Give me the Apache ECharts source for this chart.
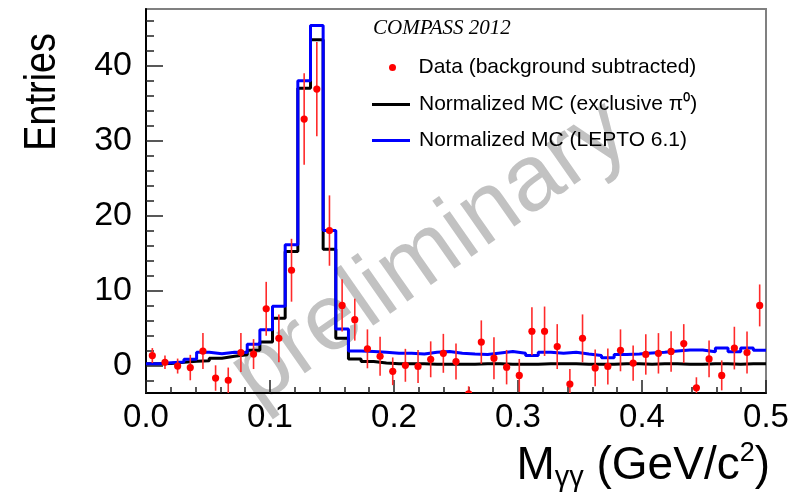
<!DOCTYPE html>
<html>
<head>
<meta charset="utf-8">
<script src="https://cdn.jsdelivr.net/npm/echarts@6/dist/echarts.min.js"></script>
<style>
  html, body { margin: 0; padding: 0; background: #ffffff; }
  #chart { width: 810px; height: 498px; }
</style>
</head>
<body>
<div id="chart"></div>
<script>
// Diphoton invariant mass spectrum, 49 equal bins between 0 and 0.5 GeV/c^2
const massMin = 0;
const massMax = 0.5;
const nBins = 49;

// Background-subtracted data: entries per bin and their statistical errors
const dataCounts = [
  1.3, 0.4, -0.1, -0.3, 1.9, -1.7, -2.0, 1.7, 1.5, 7.55,
  3.6, 12.7, 32.9, 36.9, 18.0, 8.0, 6.1, 2.2, 1.2, -0.8,
  0.0, -0.15, 0.8, 1.6, 0.5, -3.8, 3.1, 0.95, -0.25, -1.35,
  4.55, 4.55, 2.5, -2.5, 3.6, -0.35, -0.15, 2.0, 0.3, 1.45,
  1.6, 1.85, 2.9, -3.0, 0.85, -1.35, 2.3, 1.7, 8.0
];
const dataErrors = [
  1.0, 0.9, 1.0, 1.7, 2.4, 1.7, 1.7, 2.6, 2.0, 3.6,
  3.2, 4.2, 6.1, 6.3, 4.7, 3.5, 2.8, 2.6, 2.6, 1.85,
  2.2, 2.2, 2.4, 2.6, 2.4, 1.0, 2.9, 2.8, 2.3, 2.2,
  3.2, 3.3, 3.0, 2.0, 3.2, 2.45, 2.4, 2.8, 2.35, 2.7,
  2.7, 2.7, 2.6, 1.4, 2.45, 2.0, 2.85, 2.8, 2.8
];

// Normalized Monte Carlo: exclusive pi0 production
const mcExclusive = [
  0.2, 0.25, 0.4, 0.55, 0.6, 0.95, 1.2, 1.4, 2.0, 3.1,
  6.3, 15.2, 37.0, 43.5, 15.5, 3.6, 0.85, 0.5, 0.3, 0.2,
  0.2, 0.2, 0.15, 0.15, 0.15, 0.15, 0.2, 0.2, 0.15, 0.15,
  0.15, 0.2, 0.2, 0.2, 0.15, 0.15, 0.15, 0.2, 0.2, 0.15,
  0.2, 0.2, 0.15, 0.15, 0.2, 0.2, 0.15, 0.2, 0.2
];

// Normalized Monte Carlo: LEPTO 6.1
const mcLepto = [
  0.2, 0.35, 0.45, 0.8, 1.75, 1.55, 1.75, 1.7, 2.8, 4.75,
  7.9, 16.1, 38.0, 45.4, 18.0, 4.85, 1.9, 1.85, 1.75, 1.6,
  1.6, 1.5, 1.75, 1.85, 1.6, 1.5, 1.45, 1.65, 1.85, 1.6,
  1.3, 1.75, 1.6, 1.75, 1.5, 1.3, 1.0, 1.45, 1.5, 1.65,
  1.75, 1.9, 2.05, 2.05, 1.8, 2.3, 1.8, 2.3, 2.0
];

const yMajorTicks = [0, 10, 20, 30, 40];
const yMinorTicks = [-2, 0, 2, 4, 6, 8, 10, 12, 14, 16, 18, 20, 22, 24, 26, 28, 30, 32, 34, 36, 38, 40, 42, 44, 46];
const yRange = [-3.7, 47.6];

const binWidth = (massMax - massMin) / nBins;

// Step outline of a histogram: two points per bin (left and right edge)
function stepLine(values) {
  const pts = [];
  values.forEach((v, i) => {
    pts.push([massMin + i * binWidth, v]);
    pts.push([massMin + (i + 1) * binWidth, v]);
  });
  return pts;
}

const pointData = dataCounts.map((v, i) => [massMin + (i + 0.5) * binWidth, v, dataErrors[i]]);

const labelFont = 'Liberation Sans, Arial, Helvetica, sans-serif';

const chart = echarts.init(document.getElementById('chart'), null, { renderer: 'canvas' });

const yAxisCommon = {
  type: 'value',
  min: yRange[0],
  max: yRange[1],
  position: 'left',
  offset: 0,
  splitLine: { show: false }
};

chart.setOption({
  animation: false,
  backgroundColor: '#ffffff',
  grid: {
    left: 146, right: 44, top: 9, bottom: 105,
    containLabel: false,
    outerBoundsMode: 'none',
    show: true,
    borderColor: '#808080',
    borderWidth: 2,
    backgroundColor: 'transparent'
  },
  legend: [
    {
      orient: 'vertical',
      left: 389,
      top: 57,
      padding: 0,
      itemWidth: 38,
      itemHeight: 7,
      selectedMode: false,
      textStyle: { fontFamily: labelFont, fontSize: 21, color: '#000', padding: [0, 0, 0, 2] },
      data: [
        { name: 'Data (background subtracted)', icon: 'circle', itemStyle: { color: '#ff0000' } }
      ]
    },
    {
      orient: 'vertical',
      left: 372,
      top: 94,
      padding: 0,
      itemWidth: 38,
      itemHeight: 3,
      itemGap: 15,
      selectedMode: false,
      textStyle: { fontFamily: labelFont, fontSize: 21, color: '#000', padding: [0, 0, 0, 4] },
      data: [
        { name: 'Normalized MC (exclusive π⁰)', icon: 'rect', itemStyle: { color: '#000000' } },
        { name: 'Normalized MC (LEPTO 6.1)', icon: 'rect', itemStyle: { color: '#0000ff' } }
      ]
    }
  ],
  xAxis: {
    type: 'value',
    min: massMin,
    max: massMax,
    interval: 0.1,
    axisLine: { onZero: false, lineStyle: { color: '#000', width: 2 } },
    axisTick: { inside: true, length: 13, lineStyle: { color: '#222', width: 1.5 } },
    minorTick: { show: true, splitNumber: 5, length: 6, lineStyle: { color: '#222', width: 1.5 } },
    splitLine: { show: false },
    axisLabel: {
      margin: 8,
      fontFamily: labelFont,
      fontSize: 33,
      color: '#000',
      formatter: v => v.toFixed(1)
    }
  },
  yAxis: [
    Object.assign({}, yAxisCommon, {
      axisLine: { onZero: false, lineStyle: { color: '#000', width: 2 } },
      axisTick: { inside: true, length: 17, customValues: yMajorTicks, lineStyle: { color: '#222', width: 1.5 } },
      axisLabel: {
        customValues: yMajorTicks,
        margin: 14,
        fontFamily: labelFont,
        fontSize: 34,
        color: '#000'
      }
    }),
    Object.assign({}, yAxisCommon, {
      axisLine: { show: false },
      axisTick: { inside: true, length: 8, customValues: yMinorTicks, lineStyle: { color: '#222', width: 1.5 } },
      axisLabel: { show: false }
    })
  ],
  graphic: [
    {
      type: 'text',
      z: 0,
      x: 430, y: 254,
      rotation: 35 * Math.PI / 180,
      style: {
        text: 'preliminary',
        fontFamily: labelFont,
        fontSize: 94,
        fill: '#c2c2c2',
        align: 'center',
        verticalAlign: 'middle'
      }
    },
    {
      type: 'text',
      z: 10,
      x: 373, y: 18,
      style: {
        text: 'COMPASS 2012',
        fontFamily: 'Liberation Serif, Times New Roman, serif',
        fontStyle: 'italic',
        fontSize: 21,
        fill: '#000'
      }
    },
    {
      type: 'text',
      z: 10,
      x: 43, y: 33,
      rotation: Math.PI / 2,
      scaleX: 0.86,
      style: {
        text: 'Entries',
        fontFamily: labelFont,
        fontSize: 44,
        fill: '#000',
        align: 'right',
        verticalAlign: 'middle'
      }
    },
    {
      type: 'text',
      z: 10,
      x: 770, y: 466,
      style: {
        text: '{m|M}{s|γγ}{t| (GeV/c}{p|2}{t|)}',
        align: 'right',
        verticalAlign: 'middle',
        rich: {
          m: { fontFamily: labelFont, fontSize: 46, fill: '#000', lineHeight: 52 },
          s: { fontFamily: labelFont, fontSize: 29, fill: '#000', verticalAlign: 'bottom', lineHeight: 52, padding: [12, 0, 0, 0] },
          t: { fontFamily: labelFont, fontSize: 46, fill: '#000', lineHeight: 52 },
          p: { fontFamily: labelFont, fontSize: 27, fill: '#000', verticalAlign: 'top', lineHeight: 52, padding: [0, 0, 14, 0] }
        }
      }
    }
  ],
  series: [
    {
      name: 'Normalized MC (exclusive π⁰)',
      type: 'line',
      data: stepLine(mcExclusive),
      showSymbol: false,
      symbol: 'none',
      color: '#000000',
      lineStyle: { color: '#000000', width: 3 },
      z: 3
    },
    {
      name: 'Normalized MC (LEPTO 6.1)',
      type: 'line',
      data: stepLine(mcLepto),
      showSymbol: false,
      symbol: 'none',
      color: '#0000ff',
      lineStyle: { color: '#0000ff', width: 3 },
      z: 4
    },
    {
      name: 'Data (background subtracted)',
      type: 'custom',
      color: '#ff0000',
      clip: true,
      z: 5,
      data: pointData,
      encode: { x: 0, y: 1 },
      renderItem: function (params, api) {
        const x = api.value(0);
        const y = api.value(1);
        const e = api.value(2);
        const c = api.coord([x, y]);
        const top = api.coord([x, y + e]);
        const bot = api.coord([x, y - e]);
        return {
          type: 'group',
          children: [
            {
              type: 'line',
              shape: { x1: top[0], y1: top[1], x2: bot[0], y2: bot[1] },
              style: { stroke: '#ff2a2a', lineWidth: 1.6 }
            },
            {
              type: 'circle',
              shape: { cx: c[0], cy: c[1], r: 3.6 },
              style: { fill: '#ff0000' }
            }
          ]
        };
      }
    }
  ]
});
</script>
</body>
</html>
